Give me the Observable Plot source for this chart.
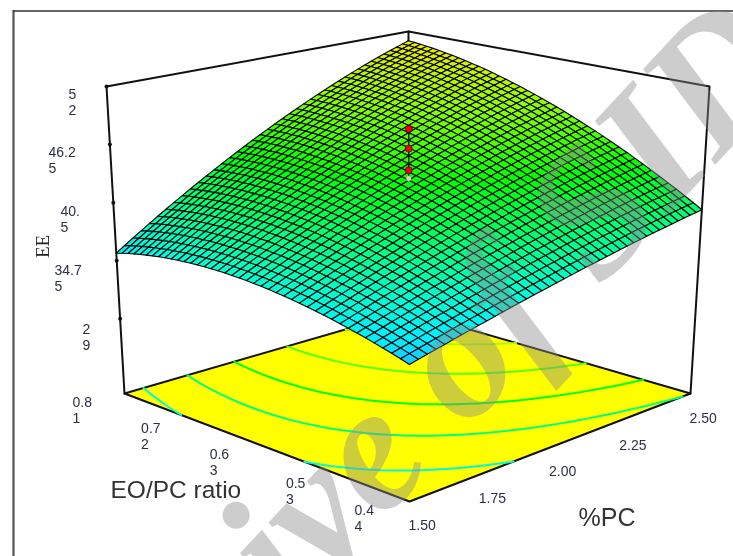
<!DOCTYPE html>
<html><head><meta charset="utf-8">
<script src="https://cdn.jsdelivr.net/npm/d3@7"></script>
<script src="https://cdn.jsdelivr.net/npm/@observablehq/plot@0.6"></script>
<style>html,body{margin:0;padding:0;background:#fff}svg{display:block;filter:blur(0.45px)}</style>
</head><body><div id="chart"></div>
<script>
// Values.
// EE along the %PC = 1.50 edge, from EO/PC ratio 0.44 to 0.81 (41 mesh lines)
const eeAtLowPC = [34.50,34.74,34.97,35.19,35.39,35.59,35.77,35.95,36.11,36.26,36.40,36.53,36.65,36.76,36.85,36.94,37.01,37.08,37.13,37.17,37.20,37.22,37.23,37.23,37.21,37.19,37.15,37.11,37.05,36.98,36.90,36.81,36.71,36.60,36.47,36.34,36.19,36.04,35.87,35.69,35.50];
// EE gained from %PC 1.50 to 2.50 at each ratio mesh line
const eeGainAcrossPC = [5.30,5.56,5.81,6.07,6.32,6.58,6.83,7.09,7.34,7.60,7.85,8.11,8.36,8.62,8.87,9.13,9.38,9.64,9.89,10.15,10.40,10.66,10.91,11.17,11.42,11.68,11.93,12.19,12.44,12.70,12.95,13.21,13.46,13.72,13.97,14.23,14.48,14.74,14.99,15.25,15.50];
// Share of that gain reached at each %PC mesh line (curvature of the far edges)
const pcProfile = [0,.0357,.0709,.1055,.1396,.1731,.2061,.2385,.2704,.3017,.3325,.3627,.3924,.4215,.4501,.4781,.5056,.5325,.5589,.5847,.61,.6347,.6589,.6825,.7056,.7281,.7501,.7715,.7924,.8127,.8325,.8517,.8704,.8885,.9061,.9231,.9396,.9555,.9709,.9857,1];
const designPoints = [47.8,45.85,43.7];
const designPointBelow = [42.9];
const contourLevels = [36.8,39.7,42.6,45.6,48.5];
const eeTicks = [52,46.25,40.5,34.75,29];
const eeTickLabels = ["5\n2","46.2\n5","40.\n5","34.7\n5","2\n9"];
const ratioTicks = [.81,.72,.63,.53,.44];
const ratioTickLabels = ["0.8\n1","0.7\n2","0.6\n3","0.5\n3","0.4\n4"];
const pcTicks = [1.5,1.75,2,2.25,2.5];
const pcTickLabels = ["1.50","1.75","2.00","2.25","2.50"];
const colorStops = [34.5,35.5,37.5,39.6,43,47,51];
const colorRange = ["#1cc4ff","#00eeff","#00ffcc","#00ff80","#00ff00","#88ff00","#f4ea00"];

// Layout of the view: corners of the floor and of the top of the box
const floorQuad = [[409,501],[690,393],[407,311],[124,393]];
const topQuad   = [[409,178],[709,86],[408,31],[106,86]];
const eeFloor = 21.6, eeTop = 52;
const eeLabelLeft = [68,48,60,54,82];
const ink = "#2b2f44";

function homography(q){
  const [[x0,y0],[x1,y1],[x2,y2],[x3,y3]] = q;
  const dx1=x1-x2,dx2=x3-x2,dy1=y1-y2,dy2=y3-y2,sx=x0-x1+x2-x3,sy=y0-y1+y2-y3;
  const det=dx1*dy2-dx2*dy1, g=(sx*dy2-dx2*sy)/det, h=(dx1*sy-sx*dy1)/det;
  const a=x1-x0+g*x1,b=x3-x0+h*x3,d=y1-y0+g*y1,e=y3-y0+h*y3;
  return (u,v)=>{const w=g*u+h*v+1;return [(a*u+b*v+x0)/w,(d*u+e*v+y0)/w];};
}
const hFloor=homography(floorQuad), hTop=homography(topQuad);
const projectUV=(u,v,ee)=>{const p=hFloor(u,v),q=hTop(u,v),t=(ee-eeFloor)/(eeTop-eeFloor);return [p[0]+(q[0]-p[0])*t,p[1]+(q[1]-p[1])*t];};
const project=(pc,ratio,ee)=>projectUV(pc-1.5,(ratio-.44)/.37,ee);

const N=pcProfile.length;
const table=pcProfile.map(r=>eeAtLowPC.map((e,j)=>e+eeGainAcrossPC[j]*r)); // table[i][j]

// surface cells, far corner first
const cells=[];
for(let i=N-2;i>=0;i--)for(let j=N-2;j>=0;j--){
  const corners=[[i,j],[i+1,j],[i+1,j+1],[i,j+1],[i,j]];
  const ee=(table[i][j]+table[i+1][j]+table[i+1][j+1]+table[i][j+1])/4;
  const id=i*1000+j;
  for(const [a,b] of corners){const [x,y]=projectUV(a/(N-1),b/(N-1),table[a][b]);cells.push({id,ee,x,y});}
}

const flat=[];for(let j=0;j<N;j++)for(let i=0;i<N;i++)flat.push(table[i][j]);
const contourRows=[];let cid=0;
for(const level of contourLevels){
  const c=d3.contours().size([N,N]).thresholds([level])(flat)[0];
  for(const poly of c.coordinates)for(const ring of poly){
    let open=false;
    for(const [gx,gy] of ring){
      const inside=gx>=.5&&gx<=N-.5&&gy>=.5&&gy<=N-.5;
      if(!inside){open=false;continue;}
      if(!open){cid++;open=true;}
      const [x,y]=projectUV((gx-.5)/(N-1),(gy-.5)/(N-1),eeFloor);
      contourRows.push({id:cid,level,x,y});
    }
  }
}

const pathRows=(id,pts)=>pts.map(([x,y])=>({id,x,y}));
const floorRows=pathRows(0,[0,1,2,3,0].map(k=>floorQuad[k]));
const boxRows=[
  ...pathRows(1,[projectUV(0,1,eeFloor),projectUV(0,1,eeTop),projectUV(1,1,eeTop),projectUV(1,0,eeTop),projectUV(1,0,eeFloor)]),
  ...pathRows(2,[projectUV(1,1,eeFloor),projectUV(1,1,eeTop)])
];
const ratioLabelX=d3.scaleLinear([.81,.44],[72,354]), ratioLabelY=d3.scaleLinear([.81,.44],[409,517]);
const pcLabelX=d3.scaleLinear([1.5,2.5],[408,689]), pcLabelY=d3.scaleLinear([1.5,2.5],[525,418]);
const eeLabelY=d3.scaleLinear([52,29],[101,336]);
const sans="Liberation Sans, Arial, sans-serif";

const stem=[...designPointBelow,...designPoints].map(e=>{const [x,y]=project(2,.625,e);return {id:0,x,y};});

const chart=Plot.plot({
  width:733,height:556,margin:0,style:{background:"#fff",overflow:"hidden"},
  x:{domain:[0,733],range:[0,733],axis:null},
  y:{domain:[0,556],range:[0,556],axis:null},
  color:{type:"linear",domain:colorStops,range:colorRange,interpolate:"rgb",clamp:true},
  marks:[
    Plot.ruleX([13],{y1:10,y2:556,stroke:"#555",strokeWidth:2.2}),
    Plot.ruleY([10.5],{x1:13,x2:733,stroke:"#333",strokeWidth:1.4}),
    Plot.line(floorRows,{x:"x",y:"y",z:"id",fill:"#ffff00",stroke:"#111",strokeWidth:2,curve:"linear"}),
    Plot.line(contourRows,{x:"x",y:"y",z:"id",stroke:"level",strokeWidth:2,curve:"linear"}),
    Plot.line(boxRows,{x:"x",y:"y",z:"id",stroke:"#111",strokeWidth:2,curve:"linear"}),
    Plot.dot(eeTicks,{x:d=>projectUV(0,1,d)[0],y:d=>projectUV(0,1,d)[1],r:2,fill:"#111"}),
    Plot.line(cells,{x:"x",y:"y",z:"id",fill:"ee",stroke:"#000",strokeWidth:1.1,strokeLinejoin:"miter",curve:"linear"}),
    Plot.line(stem,{x:"x",y:"y",z:"id",stroke:"#111",strokeWidth:1}),
    Plot.dot(designPoints,{x:d=>project(2,.625,d)[0],y:d=>project(2,.625,d)[1],r:3.6,fill:"#f00000",stroke:"#000",strokeWidth:.5}),
    Plot.dot(designPointBelow,{x:d=>project(2,.625,d)[0],y:d=>project(2,.625,d)[1],r:2.5,fill:"#e8c8c8"}),
    Plot.text(eeTicks,{x:(d,i)=>eeLabelLeft[i],y:d=>eeLabelY(d),text:(d,i)=>eeTickLabels[i],textAnchor:"start",lineHeight:1.14,fontSize:14,fontFamily:sans,fill:ink}),
    Plot.text(ratioTicks,{x:d=>ratioLabelX(d),y:d=>ratioLabelY(d),text:(d,i)=>ratioTickLabels[i],textAnchor:"start",lineHeight:1.14,fontSize:14,fontFamily:sans,fill:ink}),
    Plot.text(pcTicks,{x:d=>pcLabelX(d),y:d=>pcLabelY(d),text:(d,i)=>pcTickLabels[i],textAnchor:"start",fontSize:14,fontFamily:sans,fill:ink}),
    Plot.text(["EO/PC ratio"],{x:[110],y:[490],text:d=>d,textAnchor:"start",fontSize:24.5,fontFamily:sans,fill:"#333"}),
    Plot.text(["%PC"],{x:[578],y:[517],text:d=>d,textAnchor:"start",fontSize:25,fontFamily:sans,fill:"#333"}),
    Plot.text(["EE"],{x:[42],y:[246],text:d=>d,rotate:-90,fontSize:19,fontFamily:"Liberation Serif, serif",fill:"#222"}),
    Plot.text(["Archive of SID"],{x:[762],y:[29],text:d=>d,rotate:-47,textAnchor:"end",fontSize:180,fontFamily:"Liberation Serif, serif",fontWeight:"bold",fontStyle:"italic",fill:"#8c8c8c",fillOpacity:.43})
  ]
});
document.getElementById("chart").append(chart);
</script></body></html>
